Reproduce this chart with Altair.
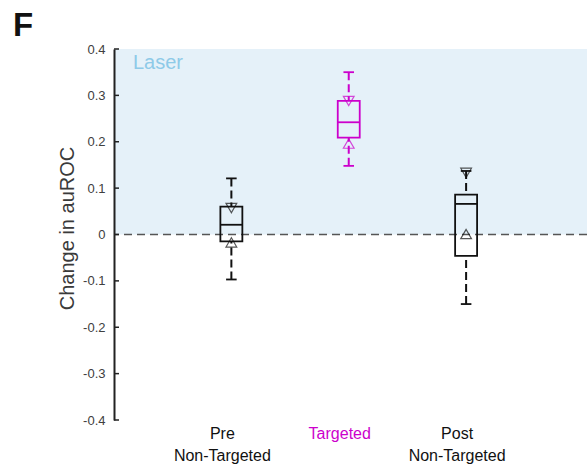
import altair as alt
import pandas as pd

# ---- data ----
groups = ["Pre\nNon-Targeted", "Targeted", "Post\nNon-Targeted"]
positions = [1, 2, 3]
colors = ["#111111", "#cc00cc", "#111111"]
upper_cap = [0.121, 0.350, 0.137]
q3 = [0.060, 0.288, 0.086]
median = [0.021, 0.242, 0.066]
q1 = [-0.015, 0.209, -0.046]
lower_cap = [-0.097, 0.148, -0.150]
notch_hi = [0.057, 0.288, 0.133]
notch_lo = [-0.017, 0.196, 0.001]
y_ticks = [-0.4, -0.3, -0.2, -0.1, 0, 0.1, 0.2, 0.3, 0.4]
laser_range = [0.0, 0.4]

df = pd.DataFrame({
    "group": groups, "pos": positions, "color": colors,
    "upper": upper_cap, "q3": q3, "median": median, "q1": q1,
    "lower": lower_cap, "nhi": notch_hi, "nlo": notch_lo,
})
ticks_df = pd.DataFrame({"t": y_ticks})
laser_df = pd.DataFrame({"lo": [laser_range[0]], "hi": [laser_range[1]]})

FONT = "Liberation Sans"
W, H = 473, 371
xs = alt.Scale(domain=[0, 4.03], nice=False, zero=False)
ys = alt.Scale(domain=[-0.4, 0.4], nice=False, zero=False)
BOX_HALF = 0.0936
CAP_HALF = 0.045

base = alt.Chart(df)
col = alt.Color("color:N", scale=None, legend=None)

yaxis = alt.Axis(
    values=y_ticks, labelExpr="'' + round(datum.value*10)/10",
    title="Change in auROC", grid=False, ticks=False, zindex=2,
    domainColor="#222222", domainWidth=2,
    labelFont=FONT, labelFontSize=13, labelColor="#404040", labelPadding=9,
    titleFont=FONT, titleFontSize=20, titleFontWeight="normal", titleColor="#3a3a3a",
    titleX=-47, titleY=179, titleBaseline="middle", titleAlign="center", titleAngle=270,
)

shade = alt.Chart(laser_df).mark_rect(color="#e5f1f9").encode(
    x=alt.value(0), x2=alt.value(W),
    y=alt.Y("hi:Q", scale=ys, axis=yaxis), y2="lo:Q",
)

zero_line = alt.Chart(laser_df).mark_rule(
    color="#555555", strokeDash=[8, 5], strokeWidth=1.5
).encode(y=alt.Y("lo:Q", scale=ys))

laser_txt = alt.Chart(laser_df).mark_text(
    text="Laser", font=FONT, fontSize=20, color="#8ecae8",
    align="left", baseline="alphabetic"
).encode(x=alt.value(19), y=alt.value(20))

tick_layer = alt.Chart(ticks_df).mark_rule(color="#222222", strokeWidth=1.5).encode(
    y=alt.Y("t:Q", scale=ys),
    x=alt.value(0), x2=alt.value(5),
)

dash = [8, 4]
wh_up = base.mark_rule(strokeDash=dash, strokeWidth=2).encode(
    x=alt.X("pos:Q", scale=xs, axis=None),
    y=alt.Y("upper:Q", scale=ys), y2="q3:Q", color=col,
)
wh_lo = base.mark_rule(strokeDash=dash, strokeWidth=2).encode(
    x=alt.X("pos:Q", scale=xs, axis=None),
    y=alt.Y("lower:Q", scale=ys), y2="q1:Q", color=col,
)
caps = base.transform_calculate(
    cl=f"datum.pos - {CAP_HALF}", cr=f"datum.pos + {CAP_HALF}"
)
cap_up = caps.mark_rule(strokeWidth=1.8).encode(
    x=alt.X("cl:Q", scale=xs, axis=None), x2="cr:Q",
    y=alt.Y("upper:Q", scale=ys), color=col,
)
cap_lo = caps.mark_rule(strokeWidth=1.8).encode(
    x=alt.X("cl:Q", scale=xs, axis=None), x2="cr:Q",
    y=alt.Y("lower:Q", scale=ys), color=col,
)
boxes = base.transform_calculate(
    bl=f"datum.pos - {BOX_HALF}", br=f"datum.pos + {BOX_HALF}"
)
box = boxes.mark_rect(filled=False, strokeWidth=1.8).encode(
    x=alt.X("bl:Q", scale=xs, axis=None), x2="br:Q",
    y=alt.Y("q1:Q", scale=ys), y2="q3:Q", color=col,
)
med = boxes.mark_rule(strokeWidth=1.8).encode(
    x=alt.X("bl:Q", scale=xs, axis=None), x2="br:Q",
    y=alt.Y("median:Q", scale=ys), color=col,
)
tri_dn = base.mark_point(shape="triangle-down", filled=False, size=115, strokeWidth=1.2).encode(
    x=alt.X("pos:Q", scale=xs, axis=None),
    y=alt.Y("nhi:Q", scale=ys), color=col,
)
tri_up = base.mark_point(shape="triangle-up", filled=False, size=115, strokeWidth=1.2).encode(
    x=alt.X("pos:Q", scale=xs, axis=None),
    y=alt.Y("nlo:Q", scale=ys), color=col,
)
xlabels = base.mark_text(
    font=FONT, fontSize=16, lineBreak="\n", lineHeight=22,
    align="center", baseline="alphabetic", dx=-9,
).encode(
    x=alt.X("pos:Q", scale=xs, axis=None), y=alt.value(390),
    text="group:N", color=col,
)
panel = alt.Chart(laser_df).mark_text(
    text="F", font=FONT, fontSize=33, fontWeight="bold", color="#111111",
    align="left", baseline="alphabetic",
).encode(x=alt.value(-101), y=alt.value(-13))

chart = alt.layer(
    shade, zero_line, laser_txt, tick_layer, wh_up, wh_lo, cap_up, cap_lo,
    box, med, tri_dn, tri_up, xlabels, panel,
).properties(
    width=W, height=H,
    padding={"left": 114, "top": 49, "right": 0, "bottom": 46},
    autosize=alt.AutoSizeParams(type="none"),
    background="white",
).configure_view(strokeWidth=0)

chart.save("out.html", embed_options={"renderer": "svg", "actions": False})
